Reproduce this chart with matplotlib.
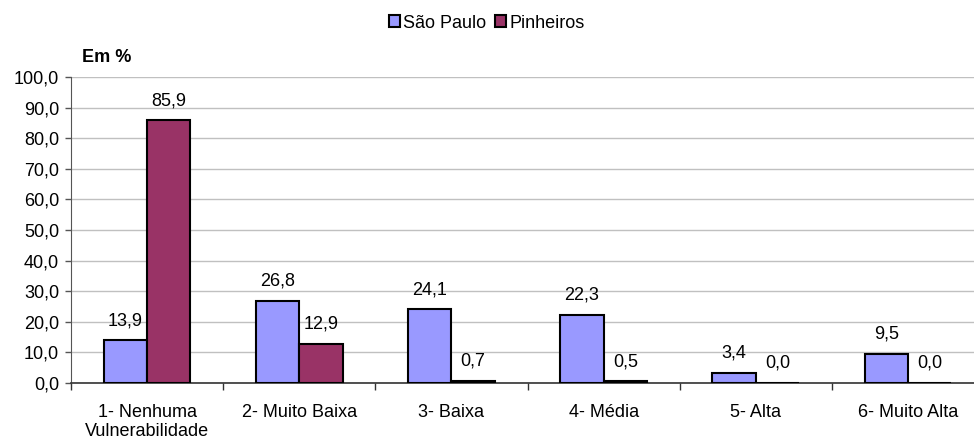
import matplotlib.pyplot as plt
import numpy as np

plt.rcParams['font.family'] = ['Liberation Sans', 'DejaVu Sans']

categories = ['1- Nenhuma\nVulnerabilidade', '2- Muito Baixa', '3- Baixa',
              '4- Média', '5- Alta', '6- Muito Alta']
sao_paulo = [13.9, 26.8, 24.1, 22.3, 3.4, 9.5]
pinheiros = [85.9, 12.9, 0.7, 0.5, 0.0, 0.0]
series_names = ['São Paulo', 'Pinheiros']
series_colors = ['#9999FF', '#993366']

fs = 13

fig = plt.figure(figsize=(9.74, 4.43), dpi=100)
# axes runs a bit past the right edge, as in the reference
ax = fig.add_axes([71 / 974, (443 - 383) / 443, (984 - 71) / 974, 306 / 443])

x = np.arange(len(categories))
w = 0.285
b1 = ax.bar(x - w / 2, sao_paulo, w, color=series_colors[0], edgecolor='black',
            linewidth=1.5, label=series_names[0], zorder=3)
b2 = ax.bar(x + w / 2, pinheiros, w, color=series_colors[1], edgecolor='black',
            linewidth=1.5, label=series_names[1], zorder=3)

for bars, vals in [(b1, sao_paulo), (b2, pinheiros)]:
    for bar, v in zip(bars, vals):
        ax.annotate(f'{v:.1f}'.replace('.', ','),
                    (bar.get_x() + bar.get_width() / 2, bar.get_height()),
                    xytext=(0, 8), textcoords='offset points',
                    ha='center', va='bottom', fontsize=fs)

ax.set_xlim(-0.5, len(categories) - 0.5)
ax.set_ylim(0, 100)
yt = np.arange(0, 101, 10)
ax.set_yticks(yt)
ax.set_yticklabels([f'{t:.1f}'.replace('.', ',') for t in yt], fontsize=fs)
ax.yaxis.grid(True, color='#c0c0c0', linewidth=1)
ax.set_axisbelow(True)

ax.set_xticks(x)
ax.set_xticklabels(categories, fontsize=fs)
ax.tick_params(axis='x', length=0, pad=15)
ax.set_xticks(np.arange(-0.5, len(categories), 1), minor=True)
ax.tick_params(axis='x', which='minor', length=5, width=1, color='#333333')
ax.tick_params(axis='y', length=4.5, width=1, color='#555555', pad=4)

for s in ['top', 'right']:
    ax.spines[s].set_visible(False)
ax.spines['left'].set_color('#555555')
ax.spines['bottom'].set_color('#333333')
ax.spines['bottom'].set_linewidth(1.2)

fig.text(82 / 974, 1 - 57 / 443, 'Em %', fontsize=fs, fontweight='bold',
         ha='left', va='center')

fig.legend(handles=[b1, b2], loc='center', bbox_to_anchor=(487 / 974, 1 - 23 / 443),
           ncol=2, frameon=False, fontsize=fs, handlelength=0.6, handleheight=0.6,
           handletextpad=0.2, columnspacing=0.5)

fig.savefig('out.png', dpi=100)
